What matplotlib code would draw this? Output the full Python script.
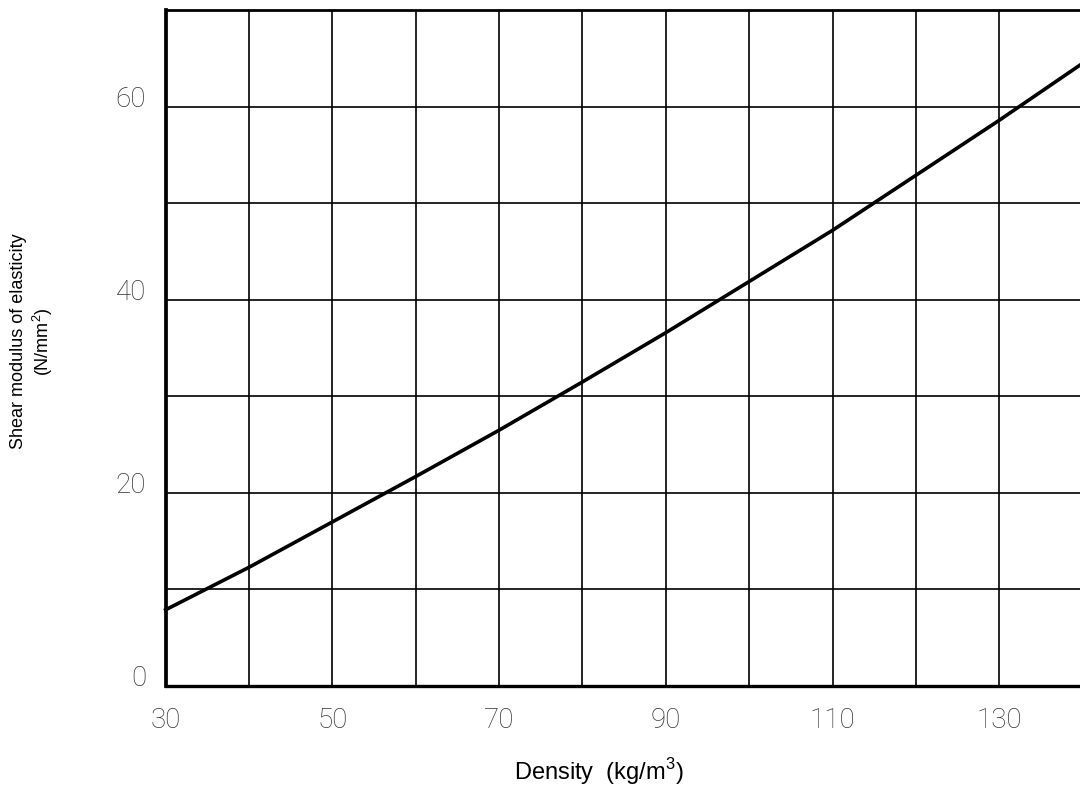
import matplotlib
matplotlib.use("Agg")
import matplotlib.pyplot as plt
import numpy as np

# data
density = [30, 40, 50, 60, 70, 80, 90, 100, 110, 120, 130, 140]
shear_modulus = [7.9, 12.3, 17.0, 21.7, 26.5, 31.5, 36.6, 41.9, 47.2, 52.9, 58.6, 64.5]

x_ticks = np.arange(30, 141, 10)
x_labels = ['30', '', '50', '', '70', '', '90', '', '110', '', '130', '']
y_ticks = np.arange(0, 71, 10)
y_labels = ['0', '', '20', '', '40', '', '60', '']

plt.rcParams['ytick.alignment'] = 'baseline'
plt.rcParams['mathtext.fontset'] = 'custom'
plt.rcParams['mathtext.rm'] = 'Liberation Sans'

fig = plt.figure(figsize=(10.8, 7.92), dpi=100)
ax = fig.add_axes([0.1534, 0.1338, 0.849, 0.8533])

ax.plot(density, shear_modulus, color='black', linewidth=2.6, zorder=5, clip_on=False)

ax.set_xlim(30, 140)
ax.set_ylim(0, 70)
ax.set_xticks(x_ticks)
ax.set_xticklabels(x_labels)
ax.set_yticks(y_ticks)
ax.set_yticklabels(y_labels)
ax.tick_params(length=0, labelsize=20, labelcolor='#333333')
ax.tick_params(axis='x', pad=15)
ax.tick_params(axis='y', pad=14)
for lab in ax.get_xticklabels() + ax.get_yticklabels():
    lab.set_fontfamily(['Roboto', 'DejaVu Sans'])
    lab.set_fontweight('light')

ax.grid(True, color='black', linewidth=1.2)
ax.spines['left'].set_linewidth(2.7)
ax.spines['bottom'].set_linewidth(2.4)
ax.spines['top'].set_linewidth(2.0)
ax.spines['right'].set_visible(False)

ax.set_xlabel('Density  (kg/m$^3$)', fontsize=17, family='Liberation Sans', va='baseline')
ax.xaxis.set_label_coords(0.4726, -0.139)
ax.set_ylabel('Shear modulus of elasticity\n(N/mm$^2$)', fontsize=13,
              family='Liberation Sans')
ax.yaxis.set_label_coords(-0.121, 0.51)

fig.savefig('out.png', dpi=100)
